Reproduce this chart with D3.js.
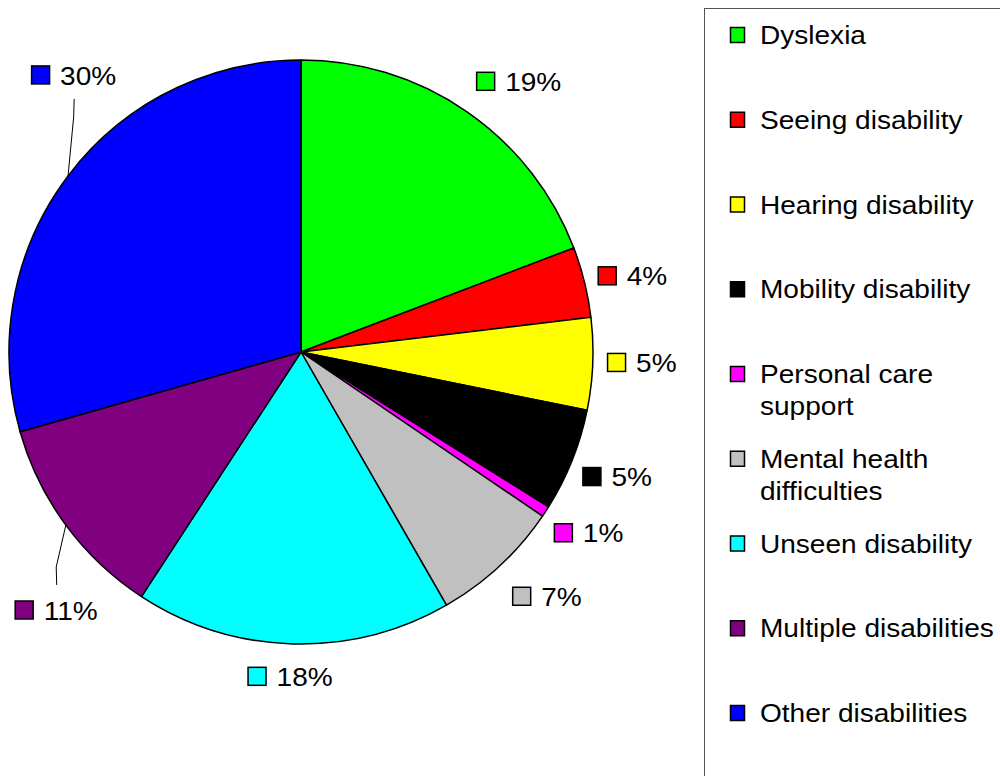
<!DOCTYPE html>
<html><head><meta charset="utf-8">
<script src="https://cdn.jsdelivr.net/npm/d3@7"></script>
<style>html,body{margin:0;padding:0;background:#fff;}svg{display:block;}</style>
</head><body>
<script>
const categories = ["Dyslexia","Seeing disability","Hearing disability","Mobility disability","Personal care support","Mental health difficulties","Unseen disability","Multiple disabilities","Other disabilities"];
const legendLines = [["Dyslexia"],["Seeing disability"],["Hearing disability"],["Mobility disability"],["Personal care","support"],["Mental health","difficulties"],["Unseen disability"],["Multiple disabilities"],["Other disabilities"]];
const values = [19.2, 3.9, 5.1, 5.7, 0.6, 7.2, 17.5, 11.4, 29.4];
const labels = ["19%","4%","5%","5%","1%","7%","18%","11%","30%"];
const colors = ["#00FF00","#FF0000","#FFFF00","#000000","#FF00FF","#C0C0C0","#00FFFF","#800080","#0000FF"];
// label layout: angle offset from slice mid-angle (deg), distance from centre (px), leader line
const labelDAngle = [4.3, 1.0, -0.5, -0.2, -0.9, -2.3, 0.3, -10.2, 13.5];
const labelDist = [347, 340, 341, 340, 340, 347, 325, 356, 358];
const labelLeader = [false,false,false,false,false,false,false,true,true];

const W = 1000, H = 776;
const cx = 301, cy = 352, R = 292;
const FS = 25.5, SX = 1.1;
const font = "'Liberation Sans', Arial, sans-serif";

const svg = d3.select("body").append("svg").attr("width", W).attr("height", H);

const pie = d3.pie().sort(null).value(d => d)(values);
const arc = d3.arc().innerRadius(0).outerRadius(R);
const g = svg.append("g").attr("transform", `translate(${cx},${cy})`);
g.selectAll("path").data(pie).join("path")
  .attr("d", arc)
  .attr("fill", (d,i) => colors[i])
  .attr("stroke", "#000").attr("stroke-width", 1.5).attr("stroke-linejoin","round");

// data labels
pie.forEach((d, i) => {
  const mid = (d.startAngle + d.endAngle) / 2;
  const a = mid + labelDAngle[i] * Math.PI / 180;
  const lx = cx + labelDist[i] * Math.sin(a);
  const ly = cy - labelDist[i] * Math.cos(a);
  const lg = svg.append("g").attr("transform", `translate(${lx},${ly})`);
  const t = lg.append("text").attr("font-family", font).attr("font-size", FS).attr("fill", "#000").text(labels[i]);
  const tw = t.node().getComputedTextLength() * SX;
  const sq = 19, gap = 10;
  const w = sq + gap + tw;
  lg.append("rect").attr("x", -w/2 + 0.5).attr("y", -sq/2).attr("width", sq - 1).attr("height", sq - 1)
    .attr("fill", colors[i]).attr("stroke", "#000").attr("stroke-width", 1.5);
  t.attr("transform", `translate(${-w/2 + sq + gap},${FS*0.716/2}) scale(${SX},1)`);
  if (labelLeader[i]) {
    const sx = cx + R * Math.sin(mid), sy = cy - R * Math.cos(mid);
    const above = ly < sy;
    const ex = lx + 0.5;
    const ey = above ? ly + sq/2 + 14 : ly - sq/2 - 16;
    const my = above ? ey + 18 : ey - 18;
    svg.append("path").attr("d", `M${sx},${sy}L${ex - 0.5},${my}L${ex},${ey}`)
      .attr("fill","none").attr("stroke","#000").attr("stroke-width",1);
  }
});

// legend
svg.append("rect").attr("x", 704.5).attr("y", 8.5).attr("width", 400).attr("height", 900)
  .attr("fill", "none").attr("stroke", "#555").attr("stroke-width", 1);
categories.forEach((c, i) => {
  const yc = 35 + i * 84.75;
  svg.append("rect").attr("x", 730.5).attr("y", yc - 7.5).attr("width", 14).attr("height", 15)
    .attr("fill", colors[i]).attr("stroke", "#000").attr("stroke-width", 1.5);
  legendLines[i].forEach((ln, j) => {
    svg.append("text").attr("font-family", font).attr("font-size", FS).attr("fill", "#000")
      .attr("transform", `translate(760,${yc + 9 + j*32}) scale(${SX},1)`).text(ln);
  });
});
</script>
</body></html>
